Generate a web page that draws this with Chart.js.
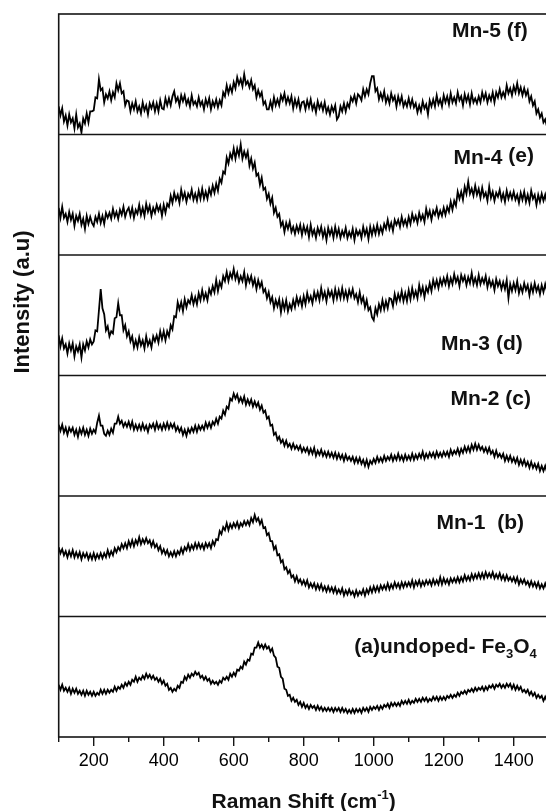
<!DOCTYPE html>
<html>
<head>
<meta charset="utf-8">
<title>Raman spectra of Mn-doped Fe3O4</title>
<script src="https://cdn.jsdelivr.net/npm/chart.js@4.4.1/dist/chart.umd.min.js"></script>
<style>
  html, body { margin: 0; padding: 0; background: #fff; overflow: hidden; }
  .chart__container { position: relative; width: 560px; height: 811px; }
</style>
</head>
<body>
<div class="chart__container"><canvas id="raman-chart"></canvas></div>
<script>
// spectra are sampled every 5 cm-1 starting at 100 cm-1
const shiftStart = 100;
const shiftStep = 5;

// (a) undoped Fe3O4
const undoped = [
  52,47,52,46,49,45,49,43,48,44,48,43,46,42,46,41,46,42,45,41,
  45,41,44,42,47,43,47,43,47,44,47,45,50,46,50,48,52,49,54,51,
  55,52,57,55,60,55,59,57,61,58,63,59,62,58,61,57,59,55,58,53,
  56,51,53,47,49,45,48,46,51,49,55,54,60,57,62,59,63,61,65,62,
  64,59,61,57,60,56,58,53,56,53,55,52,56,54,59,57,60,57,63,60,
  64,61,67,66,70,68,75,72,77,76,83,82,89,89,94,89,92,88,92,88,
  90,85,88,81,79,70,69,60,58,48,47,41,42,36,39,35,37,32,35,30,
  34,29,32,28,32,29,31,27,31,27,30,26,29,26,29,26,29,25,29,26,
  29,25,29,25,28,24,27,24,28,24,28,25,28,24,29,26,29,25,30,27,
  30,28,31,27,31,28,32,30,33,29,34,31,34,31,34,31,36,33,36,33,
  37,33,36,34,38,35,38,35,39,36,39,35,38,36,40,37,40,36,40,37,
  40,37,41,39,42,39,42,40,44,41,45,43,46,43,47,45,48,45,49,46,
  49,47,50,46,50,47,51,49,52,48,52,50,53,49,52,49,53,50,53,48,
  52,47,51,47,50,45,47,44,47,42,45,41,44,39,42,39,41,36,40,36,
  37
];

// (b) Mn-1
const mn1 = [
  69,63,67,61,65,59,65,60,66,59,64,59,64,57,63,59,63,57,62,57,
  63,57,62,58,63,58,63,59,66,60,65,61,68,64,69,66,72,68,73,68,
  75,70,76,70,76,72,79,72,77,73,78,73,76,70,75,69,72,66,70,63,
  67,62,66,60,64,60,65,60,65,62,68,63,69,66,72,66,71,67,73,68,
  73,68,72,67,73,69,73,68,75,71,77,76,85,82,89,86,93,86,92,88,
  93,89,94,88,93,90,95,91,95,91,98,94,101,95,98,92,96,88,89,81,
  83,75,75,67,70,61,62,54,56,47,49,43,46,39,41,35,40,34,37,32,
  36,31,36,29,33,29,33,27,32,27,32,26,30,25,30,25,29,24,29,23,
  27,23,28,21,26,22,27,22,25,20,26,21,25,22,27,21,27,23,29,24,
  30,25,30,25,31,27,31,27,33,27,32,28,34,29,33,28,34,29,34,30,
  34,30,36,29,35,31,36,30,35,31,36,32,36,31,37,32,36,32,39,32,
  38,33,37,32,38,34,38,34,39,34,39,35,41,36,40,36,42,37,42,38,
  43,38,43,38,44,39,43,39,44,38,42,38,43,37,41,36,41,36,39,35,
  39,34,39,32,37,33,37,32,35,30,35,30,34,29,34,28,32,28,33,28,
  30
];

// (c) Mn-2
const mn2 = [
  71,65,71,63,68,61,68,64,68,61,66,59,67,62,68,61,66,60,67,62,
  66,63,73,80,70,70,62,60,65,61,67,63,72,72,79,72,75,69,73,69,
  74,68,74,66,71,66,71,66,72,66,70,64,71,68,72,66,73,67,71,66,
  72,67,73,67,72,68,72,65,69,64,68,61,66,60,67,63,68,64,70,64,
  70,66,70,66,73,68,73,68,74,71,77,72,79,77,85,81,89,87,97,95,
  102,97,101,94,98,93,99,91,96,91,96,89,94,89,93,86,90,83,85,77,
  79,70,71,61,63,56,59,53,56,50,55,49,52,47,52,47,50,46,50,44,
  48,44,48,42,47,42,48,40,45,41,46,40,44,39,44,39,43,38,43,37,
  42,37,41,35,41,36,39,35,39,33,38,33,38,32,36,30,36,29,35,32,
  37,33,39,34,38,34,40,35,39,36,41,35,40,36,42,36,40,35,41,36,
  40,36,42,36,41,37,42,38,44,37,42,38,43,39,43,38,44,39,43,39,
  44,40,44,39,46,41,45,42,47,41,47,43,49,44,49,44,51,46,52,46,
  51,46,49,44,48,43,48,42,45,39,45,39,42,38,42,35,40,35,40,34,
  38,33,38,31,36,31,36,30,34,28,34,28,32,27,32,25,30,25,30,24,
  26
];

// (d) Mn-3
const mn3 = [
  40,29,37,27,31,22,32,25,32,19,29,24,31,18,31,25,34,28,36,31,
  34,45,44,65,86,67,61,45,49,39,44,42,57,58,72,60,60,45,50,39,
  44,34,39,28,35,28,38,30,35,27,39,30,35,28,39,34,40,33,44,36,
  44,35,44,39,50,46,59,58,73,66,73,64,76,68,75,72,80,71,78,71,
  82,75,85,76,82,75,86,81,89,83,95,84,93,88,99,94,103,94,102,97,
  106,96,102,93,99,94,103,90,99,93,99,90,96,86,95,88,93,83,86,77,
  83,73,78,67,75,69,76,63,74,66,75,64,71,66,75,68,78,71,77,69,
  79,71,82,74,79,72,83,76,83,75,87,77,83,74,85,79,84,75,86,77,
  85,77,87,77,84,76,85,79,86,77,81,73,83,73,78,68,75,65,68,58,
  55,67,61,71,65,75,66,74,67,77,76,69,81,73,81,75,84,74,82,74,
  85,76,87,78,84,77,90,81,88,78,88,83,92,84,95,88,95,87,96,90,
  97,91,99,89,97,91,101,93,98,89,100,94,99,90,98,92,102,91,97,90,
  100,91,97,92,99,88,96,89,94,85,96,89,94,86,93,86,95,77,91,84,
  92,85,94,82,89,83,92,85,90,80,90,83,92,84,89,81,90,83,91,84,
  86
];

// (e) Mn-4
const mn4 = [
  47,37,48,37,41,33,43,35,41,29,39,34,41,30,36,26,39,31,38,32,
  29,38,33,41,32,39,31,42,37,42,36,46,38,43,36,45,40,48,38,44,
  47,39,47,37,45,41,50,40,47,39,51,43,49,39,47,42,50,44,49,39,
  50,42,51,48,59,52,62,55,60,52,65,56,62,53,61,57,65,55,61,54,
  64,56,66,56,63,56,66,60,69,62,71,64,76,72,83,81,97,91,101,96,
  106,96,106,99,110,96,103,97,103,89,96,86,92,79,81,70,77,65,67,56,
  61,51,57,42,47,38,41,29,33,23,32,26,33,23,28,21,29,23,30,20,
  29,22,28,18,30,20,25,17,27,21,28,18,25,15,27,20,26,17,28,19,
  26,17,24,19,27,17,23,18,26,15,25,20,24,17,28,20,26,16,28,20,
  28,21,30,21,28,22,31,26,35,26,32,24,35,30,35,28,38,30,35,29,
  38,31,41,34,39,32,42,35,40,33,46,38,44,35,44,40,47,38,44,39,
  47,40,48,43,53,45,54,49,63,56,63,55,68,61,73,61,66,59,69,60,
  66,57,67,58,62,54,68,57,63,54,62,58,65,55,61,53,64,56,62,56,
  63,55,60,52,62,55,63,53,60,52,64,56,60,50,60,53,61,54,60,52,
  57
];

// (f) Mn-5
const mn5 = [
  28,19,26,13,19,9,20,12,16,6,20,7,11,2,16,11,21,12,23,23,
  24,37,36,55,44,46,32,40,36,43,34,42,37,51,44,51,41,43,29,34,
  33,23,31,25,33,23,28,21,32,24,29,20,31,26,32,23,31,23,34,26,
  25,36,29,36,29,38,43,33,37,29,39,33,39,30,35,28,39,30,33,28,
  37,29,33,25,35,29,36,25,33,28,35,27,34,29,42,38,49,41,48,42,
  52,46,57,50,55,48,60,50,53,47,54,45,49,37,44,38,42,30,33,25,
  25,33,26,37,29,35,29,39,34,41,31,37,31,38,26,35,28,35,25,32,
  33,25,34,27,35,25,30,22,33,26,31,24,32,22,27,20,28,23,29,15,
  18,28,23,31,23,31,27,37,33,39,31,40,38,34,45,38,45,40,51,58,
  58,43,46,35,41,35,43,32,38,31,41,34,38,28,38,31,38,28,33,28,
  36,28,35,27,31,22,29,23,33,26,30,20,34,28,35,28,39,30,35,28,
  39,32,38,30,41,32,37,31,42,34,38,29,40,33,39,30,41,32,36,31,
  38,32,42,35,41,32,39,34,42,32,42,37,45,37,42,37,49,41,46,39,
  48,42,51,41,47,39,46,39,44,33,38,29,33,21,25,17,21,12,15,8,
  9
];

const shiftCm = undoped.map((_, i) => shiftStart + i * shiftStep);
const xTickLabels = [200, 400, 600, 800, 1000, 1200, 1400];

// bottom panel first, top panel last
const spectra = [undoped, mn1, mn2, mn3, mn4, mn5];
const seriesNames = ['undoped Fe3O4', 'Mn-1', 'Mn-2', 'Mn-3', 'Mn-4', 'Mn-5'];

const FONT = '"Liberation Sans", Arial, Helvetica, sans-serif';

// panel captions: [text, kind], right inset and baseline offset from the panel top
const panelLabels = [
  { parts: [['(a)undoped- Fe'], ['3', 'sub'], ['O'], ['4', 'sub']], right: 12, base: 36 },
  { parts: [['Mn-1  (b)']], right: 24.7, base: 32.7 },
  { parts: [['Mn-2 (c)']], right: 17.7, base: 29.3 },
  { parts: [['Mn-3 (d)']], right: 26, base: 95 },
  { parts: [['Mn-4 '], ['(e)', 'up']], right: 14.7, base: 29.2 },
  { parts: [['Mn-5 (f)']], right: 21, base: 22.5 },
];

function drawParts(ctx, parts, anchorX, baseline, size, align) {
  const small = Math.round(size * 0.62);
  const fontFor = k => `bold ${k === 'sub' || k === 'sup' ? small : size}px ${FONT}`;
  const shiftFor = k => k === 'sub' ? size * 0.28 : k === 'sup' ? -size * 0.42 : k === 'up' ? -2 : 0;
  let total = 0;
  parts.forEach(([t, k]) => { ctx.font = fontFor(k); total += ctx.measureText(t).width; });
  let x = align === 'center' ? anchorX - total / 2 : anchorX - total;
  ctx.textAlign = 'left';
  ctx.textBaseline = 'alphabetic';
  parts.forEach(([t, k]) => {
    ctx.font = fontFor(k);
    ctx.fillText(t, x, baseline + shiftFor(k));
    x += ctx.measureText(t).width;
  });
}

// frame, panel dividers, bottom ticks, captions and axis titles
const panelFrame = {
  id: 'panelFrame',
  afterDraw(chart) {
    const { ctx, chartArea: a, scales } = chart;
    ctx.save();
    ctx.strokeStyle = '#151515';
    ctx.lineWidth = 1.6;
    ctx.strokeRect(a.left, a.top, a.right - a.left, a.bottom - a.top);

    spectra.forEach((_, i) => {
      const s = scales['y' + i];
      if (s.top > a.top + 1) {
        ctx.beginPath();
        ctx.moveTo(a.left, s.top);
        ctx.lineTo(a.right, s.top);
        ctx.stroke();
      }
    });

    const x = scales.x;
    ctx.lineWidth = 1.4;
    x.ticks.forEach(t => {
      const px = x.getPixelForValue(t.value);
      const len = t.value % 200 === 0 ? 9 : 5;
      ctx.beginPath();
      ctx.moveTo(px, a.bottom);
      ctx.lineTo(px, a.bottom + len);
      ctx.stroke();
    });

    ctx.fillStyle = '#111';
    panelLabels.forEach((lab, i) => {
      const s = scales['y' + i];
      drawParts(ctx, lab.parts, a.right - lab.right, s.top + lab.base, 21, 'right');
    });

    drawParts(ctx, [['Raman Shift (cm'], ['-1', 'sup'], [')']], (a.left + a.right) / 2, 808, 21, 'center');

    ctx.translate(28.5, 302);
    ctx.rotate(-Math.PI / 2);
    drawParts(ctx, [['Intensity (a.u)']], 0, 0, 22, 'center');
    ctx.restore();
  }
};

const yScales = {};
spectra.forEach((_, i) => {
  yScales['y' + i] = {
    type: 'linear',
    position: 'left',
    stack: 'panels',
    stackWeight: 1,
    min: 0,
    max: 120,
    ticks: { display: false },
    grid: { display: false, drawTicks: false },
    border: { display: false },
    afterFit: s => { s.width = 0; },
  };
});

const chartEl = document.getElementById('raman-chart');
new Chart(chartEl, {
  type: 'line',
  data: {
    datasets: spectra.map((values, i) => ({
      label: seriesNames[i],
      yAxisID: 'y' + i,
      data: values.map((v, j) => ({ x: shiftCm[j], y: v })),
      borderColor: '#000',
      borderWidth: 1.8,
      borderJoinStyle: 'miter',
      pointRadius: 0,
      tension: 0,
      fill: false,
    })),
  },
  options: {
    animation: false,
    responsive: true,
    maintainAspectRatio: false,
    layout: { padding: { left: 58.7, top: 14, right: 11.3, bottom: 34 } },
    plugins: { legend: { display: false }, tooltip: { enabled: false } },
    scales: {
      x: {
        type: 'linear',
        min: 100,
        max: 1500,
        ticks: {
          stepSize: 100,
          autoSkip: false,
          maxRotation: 0,
          minRotation: 0,
          padding: 4,
          color: '#000',
          font: { family: FONT, size: 18 },
          callback: v => (xTickLabels.includes(v) ? String(v) : ''),
        },
        grid: { display: false, drawTicks: true, tickLength: 9 },
        border: { display: false },
        afterFit: s => { s.height = 40; },
      },
      ...yScales,
    },
  },
  plugins: [panelFrame],
});
</script>
</body>
</html>
